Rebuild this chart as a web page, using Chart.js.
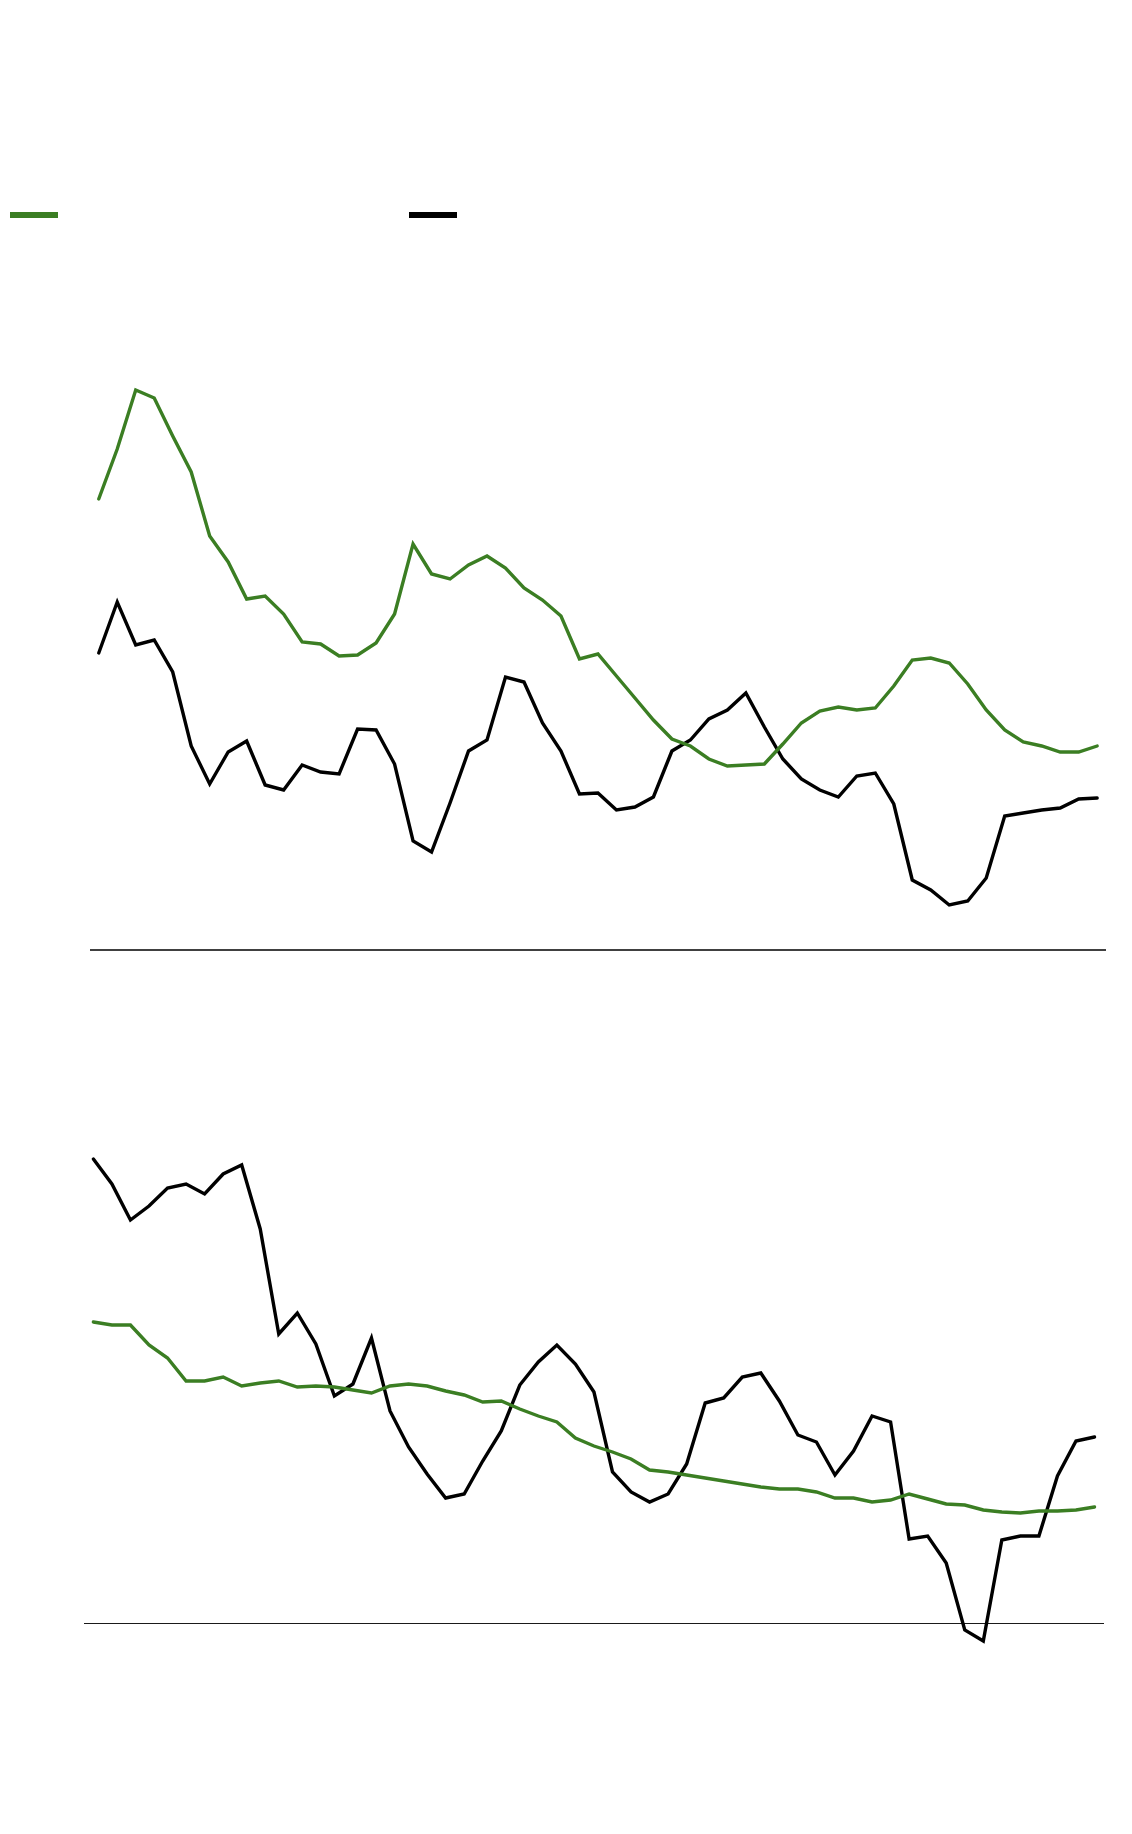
<!DOCTYPE html>
<html>
<head>
<meta charset="utf-8">
<script src="https://cdn.jsdelivr.net/npm/chart.js@4/dist/chart.umd.min.js"></script>
<style>
  html, body { margin: 0; padding: 0; background: #ffffff; }
  #page { position: relative; width: 1132px; height: 1834px; overflow: hidden; background: #fff; }
  .box { position: absolute; left: 0; width: 1132px; }
  canvas { display: block; }
</style>
</head>
<body>
<div id="page">
  <div class="box" style="top:0;height:960px;"><canvas id="top" width="1132" height="960"></canvas></div>
  <div class="box" style="top:960px;height:874px;"><canvas id="bottom" width="1132" height="874"></canvas></div>
</div>
<script>
// ---- data (units arbitrary, axis line = 0) ----
const categories = [1,2,3,4,5,6,7,8,9,10,11,12,13,14,15,16,17,18,19,20,21,22,23,24,25,26,27,28,29,30,31,32,33,34,35,36,37,38,39,40,41,42,43,44,45,46,47,48,49,50,51,52,53,54,55];

const topGreen = [45.1,50.1,56.0,55.2,51.4,47.8,41.4,38.8,35.1,35.4,33.6,30.8,30.6,29.4,29.5,30.7,33.6,40.6,37.6,37.1,38.5,39.4,38.2,36.2,35.0,33.4,29.1,29.6,27.4,25.2,23.0,21.1,20.4,19.1,18.4,18.5,18.6,20.6,22.7,23.9,24.3,24.0,24.2,26.4,29.0,29.2,28.7,26.6,24.0,22.0,20.8,20.4,19.8,19.8,20.4];
const topBlack = [29.7,34.8,30.5,31.0,27.8,20.4,16.6,19.8,20.9,16.5,16.0,18.5,17.8,17.6,22.1,22.0,18.6,10.9,9.8,14.7,19.9,21.0,27.3,26.8,22.7,19.9,15.6,15.7,14.0,14.3,15.3,19.9,21.0,23.1,24.0,25.7,22.3,19.1,17.1,16.0,15.3,17.4,17.7,14.6,7.0,6.0,4.5,4.9,7.2,13.4,13.7,14.0,14.2,15.1,15.2];

const bottomGreen = [30.2,29.9,29.9,27.9,26.6,24.3,24.3,24.7,23.8,24.1,24.3,23.7,23.8,23.7,23.4,23.1,23.8,24.0,23.8,23.3,22.9,22.2,22.3,21.5,20.8,20.2,18.6,17.8,17.2,16.5,15.4,15.2,14.9,14.6,14.3,14.0,13.7,13.5,13.5,13.2,12.6,12.6,12.2,12.4,13.0,12.5,12.0,11.9,11.4,11.2,11.1,11.3,11.3,11.4,11.7];
const bottomBlack = [46.5,44.0,40.4,41.8,43.6,44.0,43.0,45.0,45.9,39.5,29.0,31.1,28.0,22.8,24.0,28.6,21.3,17.7,15.0,12.6,13.0,16.3,19.3,23.9,26.2,27.9,26.0,23.2,15.2,13.2,12.2,13.0,16.0,22.1,22.6,24.7,25.1,22.3,18.9,18.2,14.9,17.3,20.8,20.2,8.5,8.8,6.1,-0.6,-1.7,8.4,8.8,8.8,14.8,18.3,18.7];

// ---- styles ----
const GREEN = '#3b7e23';
const BLACK = '#000000';

function zeroLinePlugin(color, width) {
  return {
    id: 'zeroLine',
    beforeDatasetsDraw(chart) {
      const ctx = chart.ctx, a = chart.chartArea;
      let y = Math.round(chart.scales.y.getPixelForValue(0));
      if (width % 2 === 1) y -= 0.5;
      ctx.save();
      ctx.strokeStyle = color;
      ctx.lineWidth = width;
      ctx.beginPath();
      ctx.moveTo(Math.round(a.left), y);
      ctx.lineTo(Math.round(a.right), y);
      ctx.stroke();
      ctx.restore();
    }
  };
}

const legendPlugin = {
  id: 'swatchLegend',
  afterDraw(chart) {
    const ctx = chart.ctx;
    const ds = chart.data.datasets;
    const xs = [10, 409];
    ctx.save();
    ds.forEach((d, i) => {
      ctx.fillStyle = d.borderColor;
      ctx.fillRect(xs[i], 212, 48, 6);
    });
    ctx.restore();
  }
};

function makeChart(id, green, black, yMin, yMax, padding, plugins) {
  return new Chart(document.getElementById(id), {
    type: 'line',
    data: {
      labels: categories,
      datasets: [
        { data: green, borderColor: GREEN, backgroundColor: GREEN, borderWidth: 3.4, pointRadius: 0, tension: 0, clip: false, borderCapStyle: 'round' },
        { data: black, borderColor: BLACK, backgroundColor: BLACK, borderWidth: 3.4, pointRadius: 0, tension: 0, clip: false, borderCapStyle: 'round' }
      ]
    },
    options: {
      responsive: false,
      animation: false,
      devicePixelRatio: 1,
      layout: { padding: padding },
      plugins: { legend: { display: false }, tooltip: { enabled: false } },
      scales: {
        x: { type: 'category', offset: true, display: false },
        y: { type: 'linear', min: yMin, max: yMax, display: false }
      }
    },
    plugins: plugins
  });
}

// top: chart area x 89.5..1106.4, y 300..950 (value 0 at 950)
makeChart('top', topGreen, topBlack, 0, 65,
  { left: 89.5, right: 25.6, top: 300, bottom: 10 },
  [zeroLinePlugin('#404040', 2), legendPlugin]);

// bottom: chart area x 84.1..1103.8, y 1104..1664 page (value 0 at 1624)
makeChart('bottom', bottomGreen, bottomBlack, -4, 52,
  { left: 84.1, right: 28.2, top: 144, bottom: 170 },
  [zeroLinePlugin('#1a1a1a', 1)]);
</script>
</body>
</html>
